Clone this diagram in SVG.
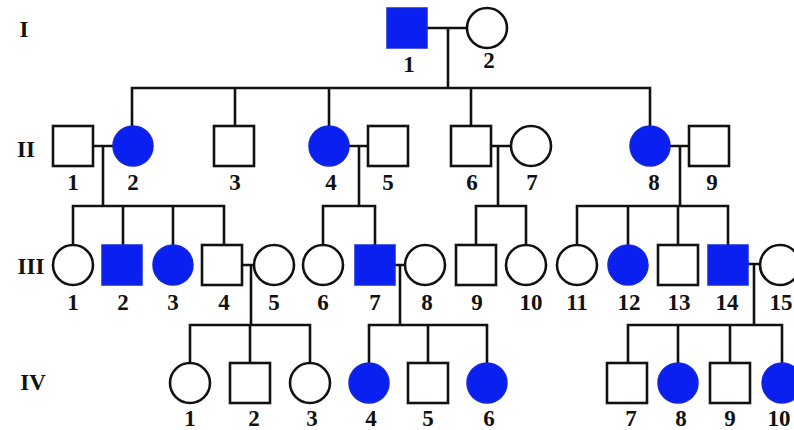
<svg xmlns="http://www.w3.org/2000/svg" width="794" height="430" viewBox="0 0 794 430">
  <style>
    .m { fill: #ffffff; stroke: #111111; stroke-width: 2.6; }
    .a { fill: #0a20f0; stroke: #1428d8; stroke-width: 1.5; }
    .lbl { font-family: "Liberation Serif", "Times New Roman", serif; font-weight: bold; font-size: 23px; fill: #111111; text-anchor: middle; }
    .gen { font-family: "Liberation Serif", "Times New Roman", serif; font-weight: bold; font-size: 23px; fill: #111111; text-anchor: middle; }
    .ln { fill: none; stroke: #111111; stroke-width: 2.6; stroke-linecap: square; }
  </style>
  <rect width="794" height="430" fill="#ffffff"/>

  <!-- generation labels -->
  <g id="generations">
    <text class="gen" x="24" y="37">I</text>
    <text class="gen" x="26" y="157">II</text>
    <text class="gen" x="31" y="274">III</text>
    <text class="gen" x="33" y="390">IV</text>
  </g>

  <!-- connectors: marriage lines, descent lines, sibship lines and drops -->
  <g id="connectors" class="ln">
    <path d="M427,28 H467 M448,28 V88 M132,88 H650 M132,88 V126 M235,88 V126 M329,88 V126 M471,88 V126 M650,88 V126"/>
    <path d="M93,146 H113 M103,146 V206 M73,206 H224 M73,206 V245 M123,206 V245 M173,206 V245 M224,206 V245"/>
    <path d="M349,146 H368 M359,146 V206 M323,206 H375 M323,206 V245 M375,206 V245"/>
    <path d="M491,146 H511 M498,146 V206 M476,206 H526 M476,206 V245 M526,206 V245"/>
    <path d="M670,146 H689 M680,146 V206 M577,206 H728 M577,206 V245 M628,206 V245 M678,206 V245 M728,206 V245"/>
    <path d="M242,265 H254 M251,265 V325 M190,325 H310 M190,325 V363 M250,325 V363 M310,325 V363"/>
    <path d="M395,265 H405 M400,265 V325 M369,325 H487 M369,325 V363 M428,325 V363 M487,325 V363"/>
    <path d="M748,264 H760 M754,264 V325 M628,325 H782 M628,325 V363 M678,325 V363 M730,325 V363 M782,325 V363"/>
  </g>

  <!-- generation I -->
  <g id="I-1"><rect class="a" x="387" y="8" width="40" height="40"/><text class="lbl" x="409" y="72">1</text></g>
  <g id="I-2"><circle class="m" cx="487" cy="28" r="20"/><text class="lbl" x="489" y="68">2</text></g>

  <!-- generation II -->
  <g id="II-1"><rect class="m" x="53" y="126" width="40" height="40"/><text class="lbl" x="73" y="190">1</text></g>
  <g id="II-2"><circle class="a" cx="133" cy="146" r="20"/><text class="lbl" x="133" y="190">2</text></g>
  <g id="II-3"><rect class="m" x="214" y="126" width="40" height="40"/><text class="lbl" x="235" y="190">3</text></g>
  <g id="II-4"><circle class="a" cx="329" cy="146" r="20"/><text class="lbl" x="331" y="190">4</text></g>
  <g id="II-5"><rect class="m" x="368" y="126" width="40" height="40"/><text class="lbl" x="388" y="190">5</text></g>
  <g id="II-6"><rect class="m" x="451" y="126" width="40" height="40"/><text class="lbl" x="472" y="190">6</text></g>
  <g id="II-7"><circle class="m" cx="531" cy="146" r="20"/><text class="lbl" x="532" y="190">7</text></g>
  <g id="II-8"><circle class="a" cx="650" cy="146" r="20"/><text class="lbl" x="654" y="190">8</text></g>
  <g id="II-9"><rect class="m" x="689" y="126" width="40" height="40"/><text class="lbl" x="712" y="190">9</text></g>

  <!-- generation III -->
  <g id="III-1"><circle class="m" cx="73" cy="265" r="20"/><text class="lbl" x="73" y="310">1</text></g>
  <g id="III-2"><rect class="a" x="102" y="245" width="40" height="40"/><text class="lbl" x="123" y="310">2</text></g>
  <g id="III-3"><circle class="a" cx="173" cy="265" r="20"/><text class="lbl" x="173" y="310">3</text></g>
  <g id="III-4"><rect class="m" x="202" y="245" width="40" height="40"/><text class="lbl" x="224" y="310">4</text></g>
  <g id="III-5"><circle class="m" cx="274" cy="265" r="20"/><text class="lbl" x="274" y="310">5</text></g>
  <g id="III-6"><circle class="m" cx="323" cy="265" r="20"/><text class="lbl" x="323" y="310">6</text></g>
  <g id="III-7"><rect class="a" x="355" y="245" width="40" height="40"/><text class="lbl" x="375" y="310">7</text></g>
  <g id="III-8"><circle class="m" cx="425" cy="265" r="20"/><text class="lbl" x="427" y="310">8</text></g>
  <g id="III-9"><rect class="m" x="456" y="245" width="40" height="40"/><text class="lbl" x="477" y="310">9</text></g>
  <g id="III-10"><circle class="m" cx="526" cy="265" r="20"/><text class="lbl" x="531" y="310">10</text></g>
  <g id="III-11"><circle class="m" cx="577" cy="265" r="20"/><text class="lbl" x="577" y="310">11</text></g>
  <g id="III-12"><circle class="a" cx="628" cy="265" r="20"/><text class="lbl" x="629" y="310">12</text></g>
  <g id="III-13"><rect class="m" x="658" y="245" width="40" height="40"/><text class="lbl" x="679" y="310">13</text></g>
  <g id="III-14"><rect class="a" x="708" y="245" width="40" height="40"/><text class="lbl" x="727" y="310">14</text></g>
  <g id="III-15"><circle class="m" cx="780" cy="265" r="20"/><text class="lbl" x="781" y="310">15</text></g>

  <!-- generation IV -->
  <g id="IV-1"><circle class="m" cx="190" cy="383" r="20"/><text class="lbl" x="190" y="426">1</text></g>
  <g id="IV-2"><rect class="m" x="230" y="363" width="40" height="40"/><text class="lbl" x="254" y="426">2</text></g>
  <g id="IV-3"><circle class="m" cx="310" cy="383" r="20"/><text class="lbl" x="312" y="426">3</text></g>
  <g id="IV-4"><circle class="a" cx="369" cy="383" r="20"/><text class="lbl" x="371" y="426">4</text></g>
  <g id="IV-5"><rect class="m" x="408" y="363" width="40" height="40"/><text class="lbl" x="428" y="426">5</text></g>
  <g id="IV-6"><circle class="a" cx="487" cy="383" r="20"/><text class="lbl" x="489" y="426">6</text></g>
  <g id="IV-7"><rect class="m" x="607" y="363" width="40" height="40"/><text class="lbl" x="631" y="426">7</text></g>
  <g id="IV-8"><circle class="a" cx="678" cy="383" r="20"/><text class="lbl" x="681" y="426">8</text></g>
  <g id="IV-9"><rect class="m" x="710" y="363" width="40" height="40"/><text class="lbl" x="730" y="426">9</text></g>
  <g id="IV-10"><circle class="a" cx="782" cy="383" r="20"/><text class="lbl" x="779" y="426">10</text></g>
</svg>
